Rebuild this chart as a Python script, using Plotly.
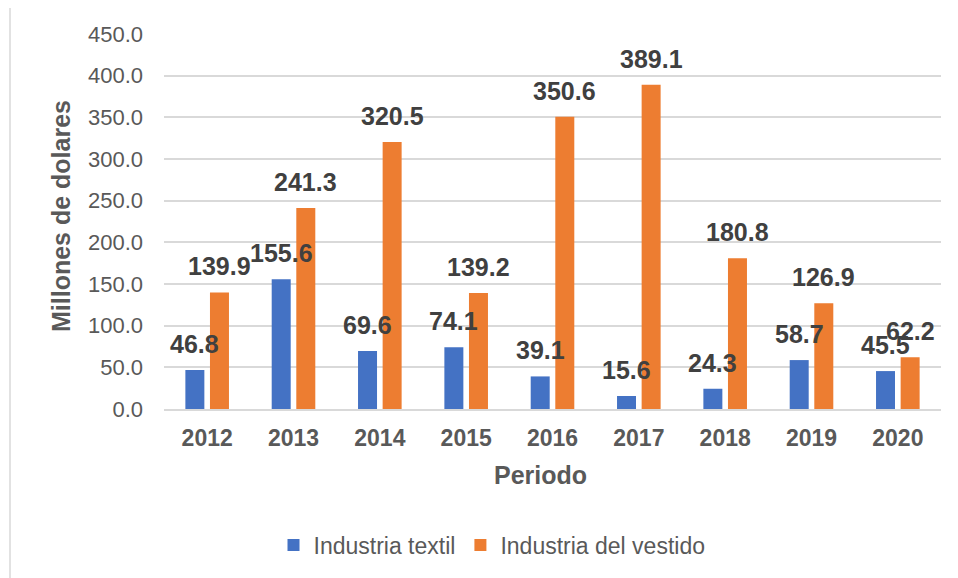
import plotly.graph_objects as go

years = ["2012", "2013", "2014", "2015", "2016", "2017", "2018", "2019", "2020"]
textil = [46.8, 155.6, 69.6, 74.1, 39.1, 15.6, 24.3, 58.7, 45.5]
vestido = [139.9, 241.3, 320.5, 139.2, 350.6, 389.1, 180.8, 126.9, 62.2]
series_names = ["Industria textil", "Industria del vestido"]
colors = ["#4472C4", "#ED7D31"]
y_ticks = [0, 50, 100, 150, 200, 250, 300, 350, 400, 450]

FONT = "Liberation Sans, Arial, sans-serif"
OFF = 8  # page body margin
W, H = 958 - OFF, 578 - OFF
ML, MR, MT, MB = 164 - OFF, 17, 34 - OFF, 169
BARGAP = 0.43
BARGROUPGAP = 0.228

fig = go.Figure()
for name, vals, col in zip(series_names, [textil, vestido], colors):
    fig.add_trace(go.Bar(x=years, y=vals, name=name, marker_color=col,
                         marker_line_width=0))

plot_w = W - ML - MR
plot_h = H - MT - MB
cat_w = plot_w / len(years)
slot = cat_w * (1 - BARGAP) / 2
shifts = [-slot / 2, slot / 2]

annotations = []
for vals, sh in zip([textil, vestido], shifts):
    for i, v in enumerate(vals):
        annotations.append(dict(x=i, y=v, xref="x", yref="y", text=f"{v:.1f}",
                                showarrow=False, xshift=sh, yshift=26,
                                yanchor="middle",
                                font=dict(family=FONT, size=25, color="#404040",
                                          weight="bold")))

annotations.append(dict(x=(61 - 164) / plot_w, y=(409 - 216) / plot_h,
                        xref="paper", yref="paper",
                        text="Millones de dolares", textangle=-90, showarrow=False,
                        xanchor="center", yanchor="middle",
                        font=dict(family=FONT, size=25, color="#595959", weight="bold")))
annotations.append(dict(x=(540 - 164) / plot_w, y=(409 - 475) / plot_h,
                        xref="paper", yref="paper",
                        text="Periodo", showarrow=False,
                        xanchor="center", yanchor="middle",
                        font=dict(family=FONT, size=25, color="#595959", weight="bold")))

fig.update_layout(
    width=W, height=H,
    margin=dict(l=ML, r=MR, t=MT, b=MB, autoexpand=False),
    paper_bgcolor="white", plot_bgcolor="white",
    barmode="group", bargap=BARGAP, bargroupgap=BARGROUPGAP,
    font=dict(family=FONT, color="#595959"),
    annotations=annotations,
    legend=dict(orientation="h", x=(492 - 164) / plot_w, xanchor="center",
                y=(409 - 545) / plot_h, yanchor="middle",
                font=dict(family=FONT, size=23, color="#595959"),
                itemwidth=30, traceorder="normal"),
    shapes=[dict(type="rect", xref="paper", yref="paper",
                 x0=(10 - 164) / plot_w, x1=1.2, y0=-0.6, y1=1 + (34 - 5) / plot_h,
                 line=dict(color="#D9D9D9", width=1.5), fillcolor="rgba(0,0,0,0)",
                 layer="below")],
)
fig.update_yaxes(range=[0, 450], tickvals=y_ticks, tickformat=".1f",
                 showgrid=True, gridcolor="#D9D9D9", gridwidth=1.5,
                 zeroline=False, showline=False,
                 tickfont=dict(family=FONT, size=22, color="#595959"),
                 ticks="", ticklabelstandoff=20)
fig.update_xaxes(type="category", range=[-0.5, len(years) - 0.5],
                 showline=True, linecolor="#D9D9D9", linewidth=1.5,
                 tickfont=dict(family=FONT, size=23, color="#595959", weight="bold"),
                 ticks="", ticklabelstandoff=8)

fig.write_html("out.html")
